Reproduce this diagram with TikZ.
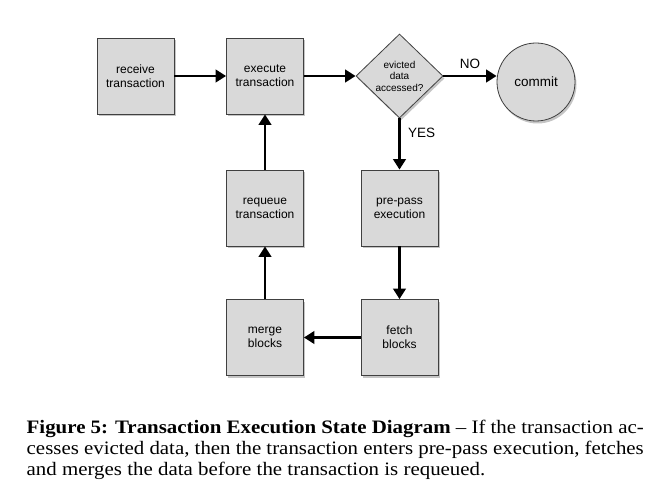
\documentclass[tikz,border=0pt]{standalone}
\usepackage{fontspec}
\setmainfont{Liberation Serif}
\newfontfamily\boxfont{Liberation Sans}
\usetikzlibrary{shapes.geometric,shadows,arrows.meta}
\begin{document}
\begin{tikzpicture}[x=1pt,y=-1pt,
  box/.style={draw=black!75,line width=0.8pt,fill=black!15,minimum width=77pt,minimum height=76pt,
    inner sep=0pt,align=center,font=\boxfont\fontsize{12}{14}\selectfont,
    drop shadow={shadow xshift=1.5pt,shadow yshift=-2.5pt,opacity=0.45}},
  dec/.style={draw=black!75,line width=0.8pt,fill=black!15,diamond,minimum width=87pt,minimum height=84pt,
    inner sep=0pt,align=center,font=\boxfont\fontsize{10}{11.5}\selectfont,
    drop shadow={shadow xshift=1.5pt,shadow yshift=-2.5pt,opacity=0.45}},
  term/.style={draw=black!75,line width=0.8pt,fill=black!15,circle,minimum size=78pt,
    inner sep=0pt,font=\boxfont\fontsize{13.5}{15}\selectfont,
    drop shadow={shadow xshift=1.5pt,shadow yshift=-2.5pt,opacity=0.45}},
  flow/.style={line width=2.6pt,-{Triangle[length=10.5pt,width=12.5pt]}},
  lbl/.style={font=\boxfont\fontsize{13.5}{15}\selectfont}
]
\useasboundingbox (0,0) rectangle (666,494);
\fill[white] (0,0) rectangle (666,494);
\node[box] (recv) at (135.5,76) {receive\\transaction};
\node[box] (exec) at (265,76) {execute\\transaction};
\node[dec] (dec) at (399.5,76) {evicted\\data\\accessed?};
\node[term] (commit) at (536,82) {commit};
\node[box] (requeue) at (265,208) {requeue\\transaction};
\node[box] (prepass) at (399.5,208) {pre-pass\\execution};
\node[box] (merge) at (265,337.5) {merge\\blocks};
\node[box] (fetch) at (399.5,337.5) {fetch\\blocks};

\draw[flow] (recv.east) -- (exec.west);
\draw[flow] (exec.east) -- (dec.west);
\draw[flow] (dec.east) -- (commit.west |- dec.east) node[lbl,midway,above=3pt] {NO};
\draw[flow] (dec.south) -- (prepass.north) node[lbl,pos=0.28,right=4pt] {YES};
\draw[flow] (prepass.south) -- (fetch.north);
\draw[flow] (fetch.west) -- (merge.east);
\draw[flow] (merge.north) -- (requeue.south);
\draw[flow] (requeue.north) -- (exec.south);

\node[anchor=base west,inner sep=0pt,font=\fontsize{19}{21}\selectfont] (cap) at (26.5,433)
  {\scalebox{1.1}[1]{\parbox[t]{561pt}{\textbf{Figure 5: Transaction Execution State Diagram} -- If the transaction ac-\linebreak cesses evicted data, then the transaction enters pre-pass execution, fetches\linebreak and merges the data before the transaction is requeued.}}};
\end{tikzpicture}
\end{document}
